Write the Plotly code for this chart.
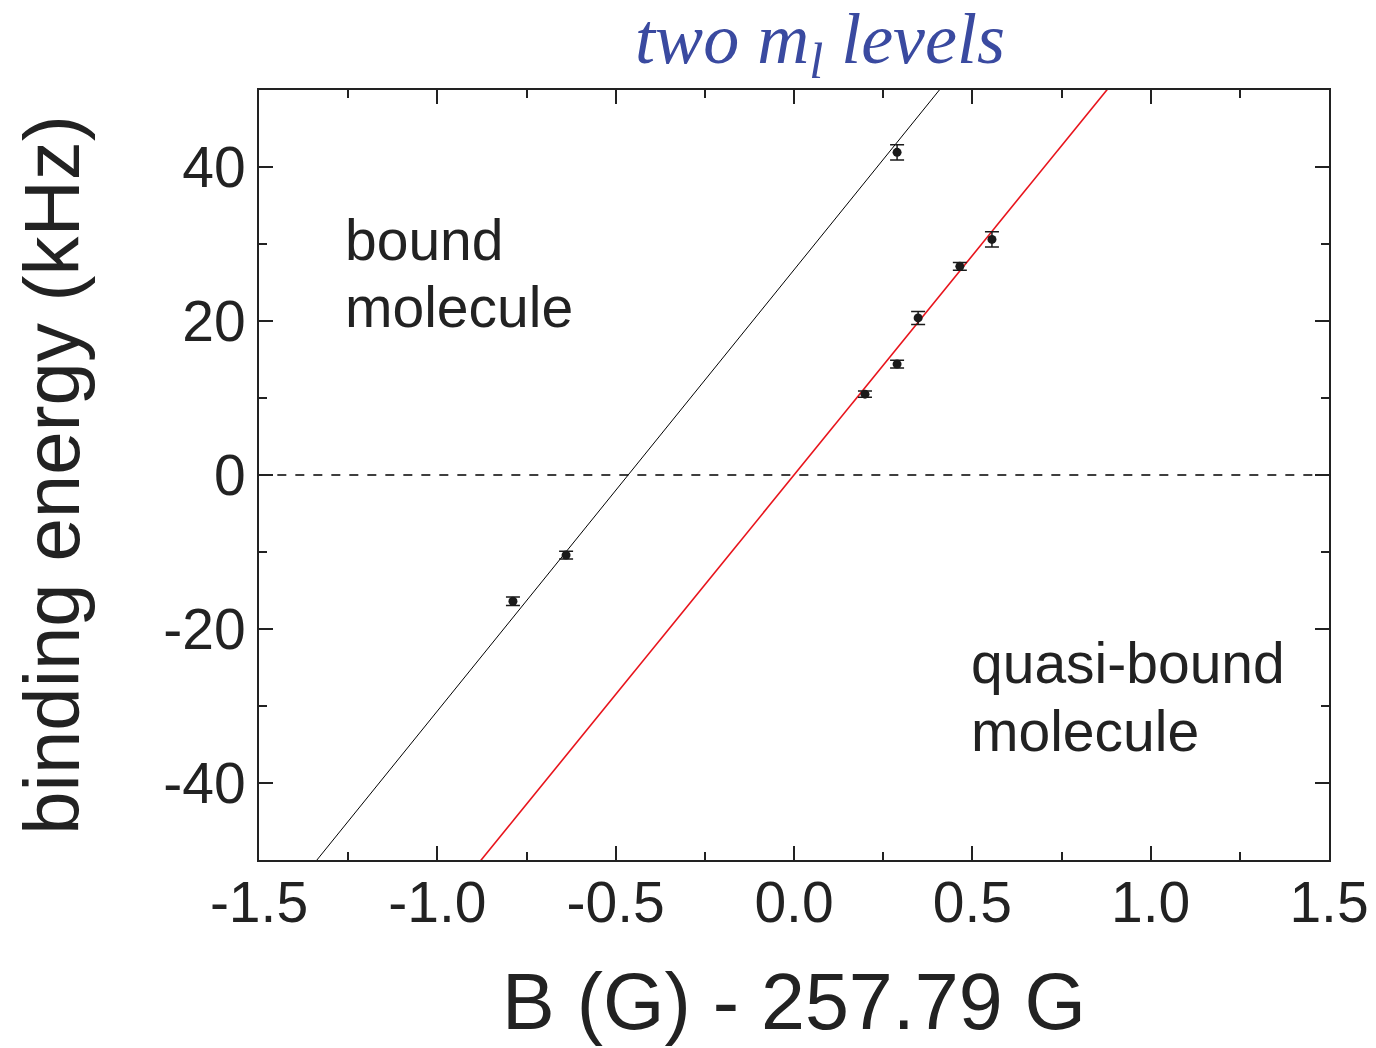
import plotly.graph_objects as go

# data points (B - 257.79 G, binding energy kHz, error)
bx = [-0.788, -0.639, 0.199, 0.289, 0.348, 0.465, 0.555, 0.289]
by = [-16.4, -10.4, 10.5, 14.4, 20.4, 27.1, 30.6, 41.9]
berr = [0.55, 0.5, 0.4, 0.5, 0.85, 0.5, 1.0, 1.0]

# linear fits: E = slope * (B - B0)
black_slope, black_b0 = 57.3, -0.465
red_slope, red_b0 = 57.0, 0.0
fit_x = [-1.6, 1.6]

x_ticks = [-1.5, -1.0, -0.5, 0.0, 0.5, 1.0, 1.5]
x_labels = ["-1.5", "-1.0", "-0.5", "0.0", "0.5", "1.0", "1.5"]
y_ticks = [-40, -20, 0, 20, 40]
y_labels = ["-40", "-20", "0", "20", "40"]

fig = go.Figure()
fig.add_trace(go.Scatter(x=fit_x, y=[0, 0], mode="lines",
                         line=dict(color="black", width=1.3, dash="dash"), hoverinfo="skip"))
fig.add_trace(go.Scatter(x=fit_x, y=[black_slope * (x - black_b0) for x in fit_x], mode="lines",
                         line=dict(color="black", width=1)))
fig.add_trace(go.Scatter(x=fit_x, y=[red_slope * (x - red_b0) for x in fit_x], mode="lines",
                         line=dict(color="#e8141c", width=1.6)))
fig.add_trace(go.Scatter(x=bx, y=by, mode="markers",
                         marker=dict(color="#1a1a1a", size=9),
                         error_y=dict(type="data", array=berr, color="#1a1a1a", thickness=1.5, width=7)))

font_main = "Liberation Sans, Arial, sans-serif"
axis_common = dict(showline=True, linecolor="#222", linewidth=2, mirror="ticks",
                   ticks="inside", ticklen=14, tickwidth=2, tickcolor="#222",
                   showgrid=False, zeroline=False, automargin=False,
                   tickfont=dict(family=font_main, size=57, color="#222"))

fig.update_xaxes(range=[-1.5, 1.5], tickvals=x_ticks, ticktext=x_labels,
                 minor=dict(dtick=0.25, ticks="inside", ticklen=8, tickwidth=2, tickcolor="#222"),
                 title=dict(text="B (G) - 257.79 G", font=dict(family=font_main, size=79, color="#222"), standoff=40),
                 ticklabelstandoff=-8,
                 **axis_common)
fig.update_yaxes(range=[-50, 50], tickvals=y_ticks, ticktext=y_labels,
                 minor=dict(dtick=10, ticks="inside", ticklen=8, tickwidth=2, tickcolor="#222"),
                 title=dict(text="binding energy (kHz)", font=dict(family=font_main, size=78, color="#222"), standoff=58),
                 ticklabelstandoff=0,
                 **axis_common)

ann_font = dict(family=font_main, size=57, color="#222")
line_gap = 8.8
for (ax, ay, lines) in [(-1.264, 35.0, ["bound", "molecule"]), (0.49, -20.0, ["quasi-bound", "molecule"])]:
    for i, t in enumerate(lines):
        fig.add_annotation(x=ax, y=ay - i * line_gap, xref="x", yref="y", text=t, showarrow=False,
                           align="left", xanchor="left", yanchor="top", font=ann_font)

fig.update_layout(
    width=1376, height=1048,
    margin=dict(l=259, r=47, t=90, b=188),
    paper_bgcolor="white", plot_bgcolor="white",
    showlegend=False,
    title=dict(text="<i>two m<sub>l</sub> levels</i>", x=0.596, xanchor="center", y=0.988, yanchor="top",
               automargin=False,
               font=dict(family="Liberation Serif, Times New Roman, serif", size=72, color="#3a4aa0")),
)

fig.write_html("out.html")
